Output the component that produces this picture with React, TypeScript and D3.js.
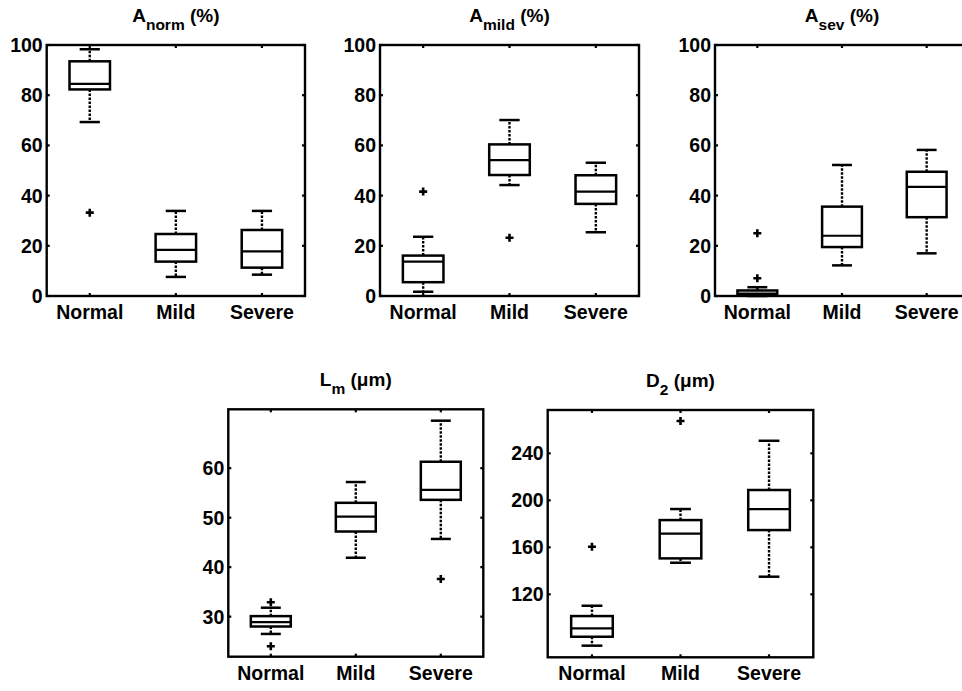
import React from 'react';
import { scaleLinear, scalePoint } from 'd3';

// groups on the x axis
const categories = ['Normal', 'Mild', 'Severe'];

// box stats per group: [lower whisker, q1, median, q3, upper whisker]
const aNormStats = [
  [69.3, 82.3, 84.5, 93.5, 98.3],
  [7.6, 13.7, 18.4, 24.7, 33.9],
  [8.5, 11.3, 17.8, 26.3, 33.9]
];
const aNormOutliers = [[33.2], [], []];

const aMildStats = [
  [1.7, 5.5, 13.7, 16.1, 23.6],
  [44.2, 48.2, 54.1, 60.4, 70.1],
  [25.4, 36.7, 41.6, 48.1, 53.1]
];
const aMildOutliers = [[41.6], [23.2], []];

const aSevStats = [
  [0, 0.3, 1.0, 2.2, 3.5],
  [12.2, 19.5, 24.0, 35.6, 52.2],
  [17.0, 31.4, 43.5, 49.5, 58.2]
];
const aSevOutliers = [[7.1, 25.0], [], []];

const lmStats = [
  [26.5, 28.0, 28.9, 30.1, 31.8],
  [41.9, 47.2, 50.2, 53.0, 57.2],
  [45.7, 53.6, 55.6, 61.3, 69.6]
];
const lmOutliers = [[32.9, 24.0], [], [37.6]];

const d2Stats = [
  [76.3, 83.9, 91.1, 101.5, 110.3],
  [146.9, 150.6, 171.6, 183.2, 192.6],
  [135.0, 174.7, 192.6, 208.8, 250.7]
];
const d2Outliers = [[160.5], [267.5], []];

const percentTicks = [0, 20, 40, 60, 80, 100];
const lmTicks = [30, 40, 50, 60];
const d2Ticks = [120, 160, 200, 240];

const panels = [
  { title: 'A', sub: 'norm', unit: ' (%)', stats: aNormStats, outliers: aNormOutliers, domain: [0, 100], ticks: percentTicks, left: 46.7, right: 305, top: 45, bottom: 296 },
  { title: 'A', sub: 'mild', unit: ' (%)', stats: aMildStats, outliers: aMildOutliers, domain: [0, 100], ticks: percentTicks, left: 380, right: 639, top: 45, bottom: 296 },
  { title: 'A', sub: 'sev', unit: ' (%)', stats: aSevStats, outliers: aSevOutliers, domain: [0, 100], ticks: percentTicks, left: 715, right: 969, top: 45, bottom: 296 },
  { title: 'L', sub: 'm', unit: ' (\u03bcm)', stats: lmStats, outliers: lmOutliers, domain: [21.9, 71.9], ticks: lmTicks, left: 228.3, right: 483.3, top: 409.3, bottom: 656.7 },
  { title: 'D', sub: '2', unit: ' (\u03bcm)', stats: d2Stats, outliers: d2Outliers, domain: [66.4, 276.9], ticks: d2Ticks, left: 547.7, right: 813.3, top: 410, bottom: 657.3 }
];

const FONT = '"Liberation Sans", Arial, sans-serif';

const Panel = ({ p }: { p: any }) => {
  const x = scalePoint<string>().domain(categories).range([p.left, p.right]).padding(0.5);
  const y = scaleLinear().domain(p.domain).range([p.bottom, p.top]);
  const boxW = x.step() * 0.47;
  const capW = boxW / 2;
  const tickLen = 3;

  return (
    <g>
      {/* title with subscript */}
      <text
        x={(p.left + p.right) / 2}
        y={p.top - 23}
        textAnchor="middle"
        fontFamily={FONT}
        fontWeight="bold"
        fontSize={19}
      >
        {p.title}
        <tspan fontSize={15.5} dy={8}>{p.sub}</tspan>
        <tspan dy={-8}>{p.unit}</tspan>
      </text>

      {/* boxes */}
      {categories.map((c, i) => {
        const [lo, q1, med, q3, hi] = p.stats[i];
        const cx = x(c) as number;
        return (
          <g key={c} stroke="#000" fill="none">
            <line x1={cx} x2={cx} y1={y(q3)} y2={y(hi)} strokeWidth={2.4} strokeDasharray="2.5,1.5" />
            <line x1={cx} x2={cx} y1={y(q1)} y2={y(lo)} strokeWidth={2.4} strokeDasharray="2.5,1.5" />
            <line x1={cx - capW / 2} x2={cx + capW / 2} y1={y(hi)} y2={y(hi)} strokeWidth={2.5} />
            <line x1={cx - capW / 2} x2={cx + capW / 2} y1={y(lo)} y2={y(lo)} strokeWidth={2.5} />
            <rect x={cx - boxW / 2} y={y(q3)} width={boxW} height={y(q1) - y(q3)} strokeWidth={2.5} />
            <line x1={cx - boxW / 2} x2={cx + boxW / 2} y1={y(med)} y2={y(med)} strokeWidth={2.2} />
            {p.outliers[i].map((v: number, j: number) => (
              <path
                key={j}
                d={`M${cx - 4},${y(v)}H${cx + 4}M${cx},${y(v) - 4}V${y(v) + 4}`}
                strokeWidth={2.6}
              />
            ))}
          </g>
        );
      })}

      {/* axes frame and ticks */}
      <rect
        x={p.left}
        y={p.top}
        width={p.right - p.left}
        height={p.bottom - p.top}
        fill="none"
        stroke="#000"
        strokeWidth={2.4}
      />
      {categories.map(c => (
        <g key={c} stroke="#000" strokeWidth={2.2}>
          <line x1={x(c)} x2={x(c)} y1={p.bottom} y2={p.bottom - tickLen} />
          <line x1={x(c)} x2={x(c)} y1={p.top} y2={p.top + tickLen} />
        </g>
      ))}
      {p.ticks.map((t: number) => (
        <g key={t} stroke="#000" strokeWidth={2.2}>
          <line x1={p.left} x2={p.left + tickLen} y1={y(t)} y2={y(t)} />
          <line x1={p.right} x2={p.right - tickLen} y1={y(t)} y2={y(t)} />
        </g>
      ))}

      {/* tick labels */}
      {p.ticks.map((t: number) => (
        <text
          key={t}
          x={p.left - 4}
          y={y(t)}
          dy="0.36em"
          textAnchor="end"
          fontFamily={FONT}
          fontWeight="bold"
          fontSize={19.5}
        >
          {t}
        </text>
      ))}
      {categories.map(c => (
        <text
          key={c}
          x={x(c)}
          y={p.bottom + 23}
          textAnchor="middle"
          fontFamily={FONT}
          fontWeight="bold"
          fontSize={19.5}
        >
          {c}
        </text>
      ))}
    </g>
  );
};

export default function App() {
  return (
    <svg
      width={962}
      height={691}
      style={{ position: 'absolute', left: 0, top: 0, background: '#fff' }}
    >
      {panels.map((p, i) => (
        <Panel key={i} p={p} />
      ))}
    </svg>
  );
}
